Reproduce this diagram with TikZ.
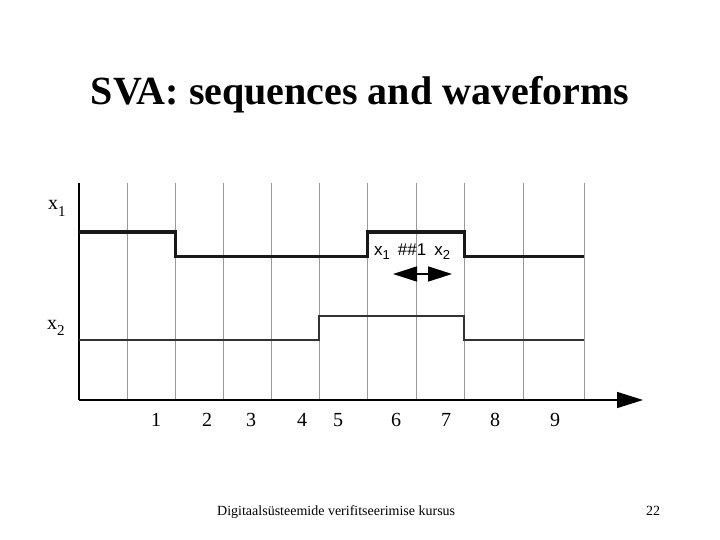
\documentclass[tikz,border=0pt]{standalone}
\usepackage{fontspec}
\setmainfont{Liberation Serif}
\newfontfamily\helv{Liberation Sans}
\usetikzlibrary{arrows.meta}
\begin{document}
\begin{tikzpicture}[x=1pt,y=-1pt,
  gridline/.style={draw=gray!80,line width=1pt},
  axisline/.style={draw=black,line width=1.5pt},
  sigone/.style={draw=black!90,line width=3pt},
  sigtwo/.style={draw=black!80,line width=2pt},
  numlab/.style={font=\fontsize{20}{20}\selectfont,anchor=base,inner sep=0pt},
  siglab/.style={font=\fontsize{20}{20}\selectfont,anchor=base west,inner sep=0pt}]
\useasboundingbox (0,0) rectangle (720,540);
% title
\node[anchor=base,inner sep=0pt,font=\fontsize{40}{40}\selectfont\bfseries] (title) at (360,105) {SVA: sequences and waveforms};
% grid
\foreach \gx in {127,175,223,271,319,367,416,464,523,584}
  \draw[gridline] (\gx,183) -- (\gx,400);
% axes
\draw[axisline] (79,183) -- (79,400);
\draw[axisline,-{Triangle[length=26pt,width=16pt]}] (79,400) -- (643,400);
% signals
\draw[sigone,line join=miter] (79,232) -- (175,232) -- (175,256) -- (367,256) -- (367,232) -- (464,232) -- (464,256) -- (584,256);
\draw[sigtwo,line join=miter] (79,340) -- (319,340) -- (319,316) -- (464,316) -- (464,340) -- (584,340);
% signal labels
\node[siglab] (lx1) at (48,210) {x\raisebox{-6pt}{\fontsize{15}{15}\selectfont 1}};
\node[siglab] (lx2) at (47,329) {x\raisebox{-6pt}{\fontsize{15}{15}\selectfont 2}};
% sequence label
\node[anchor=base west,inner sep=0pt,font=\helv\fontsize{17}{17}\selectfont] (seq) at (374,255) {x\raisebox{-4pt}{\fontsize{13}{13}\selectfont 1}\hspace{8pt}\#\#1\hspace{8pt}x\raisebox{-4pt}{\fontsize{13}{13}\selectfont 2}};
\coordinate (dl) at (393,274);
\coordinate (dr) at (452,274);
\draw[line width=1.6pt,{Triangle[length=24pt,width=15pt]}-{Triangle[length=24pt,width=15pt]}] (dl) -- (dr);
% numbers
\node[numlab] (n1) at (156,426) {1};
\node[numlab] (n2) at (207,426) {2};
\node[numlab] (n3) at (251,426) {3};
\node[numlab] (n4) at (302,426) {4};
\node[numlab] (n5) at (338,426) {5};
\node[numlab] (n6) at (396,426) {6};
\node[numlab] (n7) at (446,426) {7};
\node[numlab] (n8) at (495,426) {8};
\node[numlab] (n9) at (555,426) {9};
% footer
\node[anchor=base west,inner sep=0pt,font=\fontsize{14}{14}\selectfont] (foot) at (217,515) {Digitaalsüsteemide verifitseerimise kursus};
\node[anchor=base,inner sep=0pt,font=\fontsize{14}{14}\selectfont] (page) at (653,515) {22};
\end{tikzpicture}
\end{document}
